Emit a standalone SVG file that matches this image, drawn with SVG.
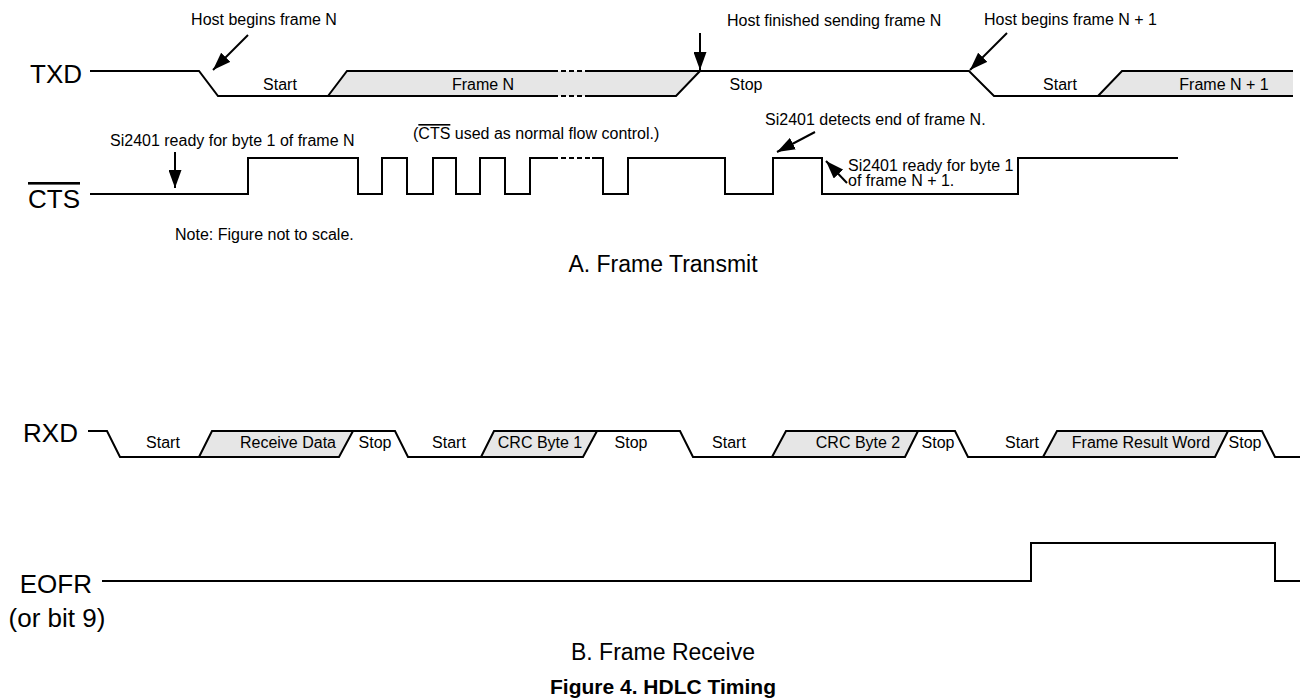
<svg xmlns="http://www.w3.org/2000/svg" width="1307" height="700" viewBox="0 0 1307 700">
<style>
.w{fill:none;stroke:#000;stroke-width:2;stroke-linejoin:miter}
.d{fill:none;stroke:#000;stroke-width:2;stroke-dasharray:5,3}
.g{fill:#e6e6e6;stroke:none}
.big{font-family:"Liberation Sans",Arial,sans-serif;font-size:26px;fill:#000}
.sm{font-family:"Liberation Sans",Arial,sans-serif;font-size:16px;fill:#000}
.ttl{font-family:"Liberation Sans",Arial,sans-serif;font-size:23px;fill:#000;text-anchor:middle}
.fig{font-family:"Liberation Sans",Arial,sans-serif;font-size:21px;font-weight:bold;fill:#000;text-anchor:middle}
.c{text-anchor:middle}
.ar{fill:none;stroke:#000;stroke-width:2;marker-end:url(#ah)}
</style>
<defs>
<marker id="ah" markerUnits="userSpaceOnUse" markerWidth="18" markerHeight="13" refX="18" refY="6.5" orient="auto">
<path d="M0,0 L18,6.5 L0,13 z" fill="#000"/>
</marker>
</defs>
<rect width="1307" height="700" fill="#fff"/>

<g id="txd">
<text class="big" x="82" y="83" text-anchor="end">TXD</text>
<polygon class="g" points="328,96 347,71 700,71 676,96"/>
<polygon class="g" points="1098,96 1122,71 1293,71 1293,96"/>
<path class="w" d="M90,71 H199 L218,96 H553 M590,96 H676 L700,71 M328,96 L347,71 H553 M590,71 H969 L994,96 H1293 M1098,96 L1122,71 H1293"/>
<path class="d" d="M553,71 H590 M553,96 H590"/>
<text class="sm c" x="280" y="90">Start</text>
<text class="sm c" x="483" y="90">Frame N</text>
<text class="sm c" x="746" y="90">Stop</text>
<text class="sm c" x="1060" y="90">Start</text>
<text class="sm c" x="1224" y="90">Frame N + 1</text>
</g>

<g id="cts">
<text class="big" x="80" y="208" text-anchor="end" text-decoration="overline">CTS</text>
<path class="w" d="M90,194 H248 V158 H358 V194 H382 V158 H407 V194 H433 V158 H456 V194 H480 V158 H505 V194 H530 V158 H553 M592,158 H603 V194 H628 V158 H725 V194 H773 V158 H822 V194 H1018 V158 H1178"/>
<path class="d" d="M553,158 H592"/>
<text class="sm" x="413" y="139">(<tspan text-decoration="overline">CTS</tspan> used as normal flow control.)</text>
<text class="sm" x="175" y="240">Note: Figure not to scale.</text>
</g>

<g id="annotations">
<text class="sm c" x="264" y="25">Host begins frame N</text>
<text class="sm" x="727" y="26">Host finished sending frame N</text>
<text class="sm" x="984" y="25">Host begins frame N + 1</text>
<text class="sm" x="110" y="146">Si2401 ready for byte 1 of frame N</text>
<text class="sm" x="765" y="125">Si2401 detects end of frame N.</text>
<text class="sm" x="848" y="171">Si2401 ready for byte 1</text>
<text class="sm" x="848" y="186">of frame N + 1.</text>
</g>

<g id="connectors">
<line class="ar" x1="248" y1="35" x2="213" y2="70"/>
<line class="ar" x1="700" y1="33" x2="700" y2="70"/>
<line class="ar" x1="1007" y1="33" x2="970" y2="70"/>
<line class="ar" x1="175" y1="152" x2="175" y2="188"/>
<line class="ar" x1="815" y1="132" x2="777" y2="152"/>
<line class="ar" x1="847" y1="183" x2="826" y2="161"/>
</g>

<text class="ttl" x="663" y="272">A. Frame Transmit</text>

<g id="rxd">
<text class="big" x="78" y="442" text-anchor="end">RXD</text>
<polygon class="g" points="199,457 212,431 353,431 339,457"/>
<polygon class="g" points="481,457 494,431 597,431 583,457"/>
<polygon class="g" points="772,457 786,431 918,431 905,457"/>
<polygon class="g" points="1043,457 1057,431 1228,431 1215,457"/>
<path class="w" d="M88,431 H107 L120,457 H339 L353,431 M199,457 L212,431 H395 L408,457 H583 L597,431 M481,457 L494,431 H680 L693,457 H905 L918,431 M772,457 L786,431 H955 L968,457 H1215 L1228,431 M1043,457 L1057,431 H1262 L1275,457 H1300"/>
<text class="sm c" x="163" y="448">Start</text>
<text class="sm" x="336" y="448" text-anchor="end">Receive Data</text>
<text class="sm c" x="375" y="448">Stop</text>
<text class="sm c" x="449" y="448">Start</text>
<text class="sm c" x="540" y="448">CRC Byte 1</text>
<text class="sm c" x="631" y="448">Stop</text>
<text class="sm c" x="729" y="448">Start</text>
<text class="sm c" x="858" y="448">CRC Byte 2</text>
<text class="sm c" x="938" y="448">Stop</text>
<text class="sm c" x="1022" y="448">Start</text>
<text class="sm c" x="1141" y="448">Frame Result Word</text>
<text class="sm c" x="1245" y="448">Stop</text>
</g>

<g id="eofr">
<text class="big" x="92" y="593" text-anchor="end">EOFR</text>
<text class="big" x="57" y="627" text-anchor="middle">(or bit 9)</text>
<path class="w" d="M102,581 H1031 V543 H1275 V581 H1300"/>
</g>

<text class="ttl" x="663" y="660">B. Frame Receive</text>
<text class="fig" x="663" y="694">Figure 4. HDLC Timing</text>
</svg>
